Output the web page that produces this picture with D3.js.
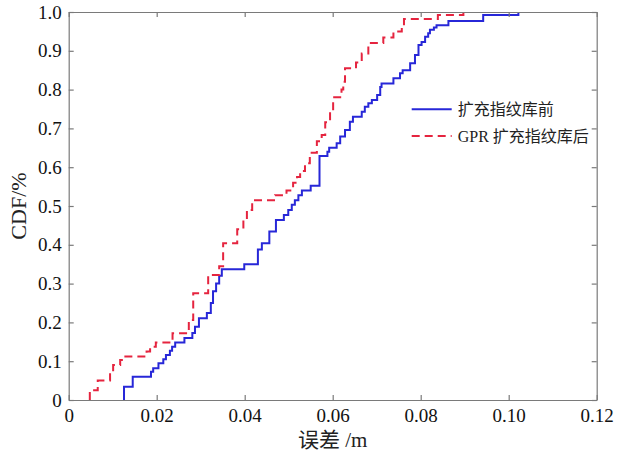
<!DOCTYPE html>
<html>
<head>
<meta charset="utf-8">
<script src="https://cdn.jsdelivr.net/npm/d3@7"></script>
<style>
  body { margin: 0; background: #fff; }
  text { font-family: "Liberation Serif", "Noto Sans CJK SC", serif; }
</style>
</head>
<body>
<div id="chart"></div>
<script>
// error thresholds (m) and cumulative fraction after each step
var beforeX = [0.01257, 0.01455, 0.0187, 0.0192, 0.0204, 0.0215, 0.0221, 0.023, 0.0235, 0.0242,
  0.0263, 0.0281, 0.0287, 0.0296, 0.0314, 0.0323, 0.0328, 0.0335, 0.0342, 0.0348,
  0.0399, 0.043, 0.0439, 0.0456, 0.0471, 0.0489, 0.0499, 0.0507, 0.0514, 0.0522,
  0.053, 0.055, 0.057, 0.0588, 0.0592, 0.0609, 0.0617, 0.0628, 0.0639, 0.0646,
  0.0666, 0.0673, 0.0681, 0.0689, 0.0701, 0.0708, 0.0711, 0.0738, 0.0753, 0.0759,
  0.0776, 0.0787, 0.0795, 0.0802, 0.081, 0.0817, 0.0821, 0.083, 0.0836, 0.0863,
  0.0942, 0.1022];
var beforeY = [0.034, 0.06, 0.073, 0.082, 0.095, 0.105, 0.116, 0.127, 0.137, 0.148,
  0.16, 0.173, 0.189, 0.211, 0.224, 0.25, 0.28, 0.30, 0.32, 0.337,
  0.35, 0.388, 0.404, 0.434, 0.464, 0.477, 0.49, 0.503, 0.515, 0.528,
  0.54, 0.552, 0.629, 0.64, 0.65, 0.662, 0.679, 0.696, 0.717, 0.73,
  0.743, 0.756, 0.765, 0.773, 0.786, 0.807, 0.816, 0.829, 0.842, 0.85,
  0.868, 0.889, 0.915, 0.923, 0.936, 0.945, 0.954, 0.96, 0.966, 0.977,
  0.992, 1.0];

var afterX = [0.0048, 0.0066, 0.0094, 0.0101, 0.0117, 0.0124, 0.0177, 0.0185, 0.0198, 0.0236,
  0.0273, 0.0283, 0.0317, 0.0342, 0.0351, 0.0383, 0.0397, 0.0405, 0.0417, 0.0469,
  0.0495, 0.051, 0.0519, 0.0526, 0.0537, 0.0548, 0.0564, 0.0575, 0.0583, 0.0594,
  0.0601, 0.062, 0.0624, 0.0628, 0.0653, 0.0666, 0.0681, 0.0715, 0.0738, 0.0757,
  0.0762, 0.0839, 0.0897];
var afterY = [0.025, 0.05, 0.07, 0.09, 0.103, 0.112, 0.125, 0.137, 0.148, 0.172,
  0.206, 0.275, 0.322, 0.345, 0.404, 0.44, 0.465, 0.49, 0.515, 0.528,
  0.54, 0.56, 0.575, 0.59, 0.61, 0.637, 0.667, 0.683, 0.716, 0.745,
  0.78, 0.8, 0.82, 0.855, 0.87, 0.893, 0.92, 0.934, 0.95, 0.966,
  0.982, 0.992, 1.0];

var xTicks = [0, 0.02, 0.04, 0.06, 0.08, 0.10, 0.12];
var yTicks = [0, 0.1, 0.2, 0.3, 0.4, 0.5, 0.6, 0.7, 0.8, 0.9, 1.0];

var seriesNames = ["扩充指纹库前", "GPR 扩充指纹库后"];
var seriesColors = ["#2727d8", "#e5243f"];

var W = 620, H = 452;
var margin = { top: 12, right: 23.3, bottom: 52, left: 68.7 };
var width = W - margin.left - margin.right,
  height = H - margin.top - margin.bottom;

var svg = d3.select("#chart")
  .append("svg")
  .attr("width", W)
  .attr("height", H)
  .append("g")
  .attr("transform", "translate(" + margin.left + "," + margin.top + ")");

var x = d3.scaleLinear().domain([0, 0.12]).range([0, width]);
var y = d3.scaleLinear().domain([0, 1]).range([height, 0]);

function toSteps(xs, ys) {
  var pts = [{ x: xs[0], y: 0 }];
  xs.forEach(function(v, i) { pts.push({ x: v, y: ys[i] }); });
  return pts;
}

var line = d3.line()
  .x(function(d) { return x(d.x); })
  .y(function(d) { return y(d.y); })
  .curve(d3.curveStepAfter);

svg.append("path")
  .datum(toSteps(beforeX, beforeY))
  .attr("d", line)
  .attr("fill", "none")
  .attr("stroke", seriesColors[0])
  .attr("stroke-width", 2);

svg.append("path")
  .datum(toSteps(afterX, afterY))
  .attr("d", line)
  .attr("fill", "none")
  .attr("stroke", seriesColors[1])
  .attr("stroke-width", 2)
  .attr("stroke-dasharray", "8,5");

// axes, MATLAB style: ticks pointing inward on all sides
var axisColor = "#7a7a7a";

var xAxis = svg.append("g")
  .attr("transform", "translate(0," + height + ")")
  .call(d3.axisBottom(x).tickValues(xTicks).tickSizeInner(-5).tickSizeOuter(0).tickPadding(9)
    .tickFormat(function(d) { return d === 0 ? "0" : d3.format(".2f")(d); }));

var yAxis = svg.append("g")
  .call(d3.axisLeft(y).tickValues(yTicks).tickSizeInner(-5).tickSizeOuter(0).tickPadding(7)
    .tickFormat(function(d) { return d === 0 ? "0" : d3.format(".1f")(d); }));

var topAxis = svg.append("g")
  .call(d3.axisTop(x).tickValues(xTicks).tickSizeInner(-5).tickSizeOuter(0).tickFormat(""));

var rightAxis = svg.append("g")
  .attr("transform", "translate(" + width + ",0)")
  .call(d3.axisRight(y).tickValues(yTicks).tickSizeInner(-5).tickSizeOuter(0).tickFormat(""));

[xAxis, yAxis, topAxis, rightAxis].forEach(function(a) {
  a.selectAll("path, line").attr("stroke", axisColor).attr("stroke-width", 1.2);
  a.selectAll("text")
    .attr("fill", "#111")
    .style("font-family", '"Liberation Serif", serif')
    .style("font-size", "19px");
});

// axis titles
svg.append("text")
  .attr("x", width / 2)
  .attr("y", height + 47)
  .attr("text-anchor", "middle")
  .style("font-size", "21px")
  .attr("fill", "#222")
  .text("误差 /m");

svg.append("text")
  .attr("transform", "translate(" + (-43) + "," + (height / 2) + ") rotate(-90)")
  .attr("text-anchor", "middle")
  .style("font-size", "22px")
  .attr("fill", "#222")
  .text("CDF/%");

// legend
var legend = svg.append("g")
  .attr("transform", "translate(" + (411.7 - margin.left) + "," + (109.3 - margin.top) + ")");

seriesNames.forEach(function(name, i) {
  var g = legend.append("g").attr("transform", "translate(0," + i * 26.7 + ")");
  g.append("line")
    .attr("x1", 0).attr("x2", 40)
    .attr("stroke", seriesColors[i])
    .attr("stroke-width", 2)
    .attr("stroke-dasharray", i === 1 ? "8,5" : null);
  g.append("text")
    .attr("x", 46)
    .attr("dy", "0.35em")
    .style("font-size", "16px")
    .attr("fill", "#222")
    .text(name);
});
</script>
</body>
</html>
